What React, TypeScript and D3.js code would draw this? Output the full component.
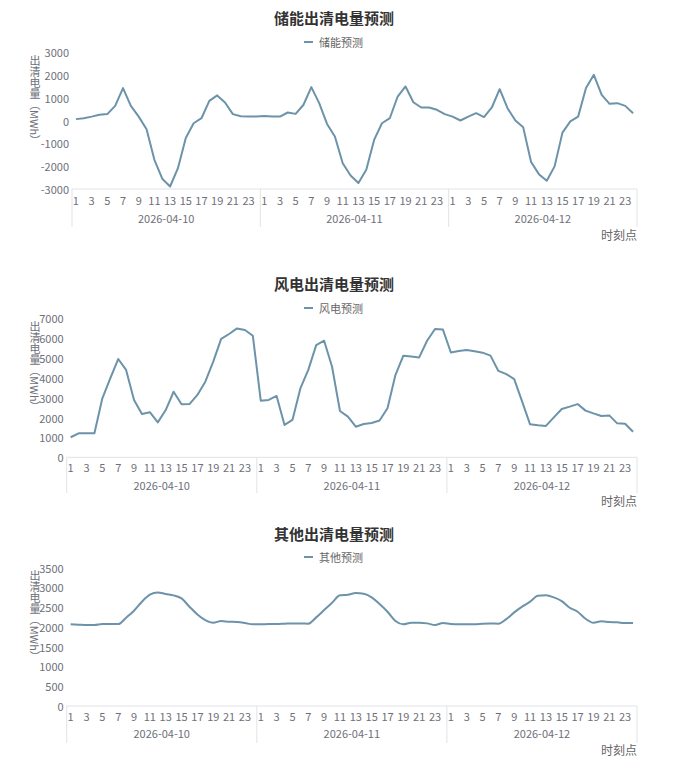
import * as d3 from "d3";
import React from "react";

// categories
const dates: string[] = ["2026-04-10", "2026-04-11", "2026-04-12"];
const hours: number[] = [1, 2, 3, 4, 5, 6, 7, 8, 9, 10, 11, 12, 13, 14, 15, 16, 17, 18, 19, 20, 21, 22, 23, 24];

// series values, one entry per hour of the three days
const storageValues: number[] = [
	60, 100, 170, 250, 280, 640, 1420, 640, 170, -380, -1720, -2550, -2890, -2090, -770, -120, 100, 860, 1100, 790, 280, 190, 170, 170,
	200, 170, 170, 350, 290, 690, 1460, 760, -150, -700, -1870, -2410, -2740, -2160, -850, -120, 100, 1050, 1490, 800, 570, 570, 470, 280,
	170, 0, 170, 320, 150, 570, 1370, 540, 0, -300, -1820, -2350, -2640, -2010, -530, -40, 170, 1420, 2000, 1120, 730, 760, 640, 320,
];
const windValues: number[] = [
	1010, 1210, 1210, 1210, 2970, 3980, 4950, 4400, 2890, 2180, 2270, 1760, 2380, 3300, 2670, 2680, 3140, 3810, 4820, 5960, 6210, 6490, 6410, 6120,
	2850, 2890, 3090, 1630, 1880, 3470, 4400, 5650, 5870, 4560, 2330, 2050, 1540, 1680, 1730, 1850, 2470, 4140, 5120, 5080, 5030, 5870, 6460, 6430,
	5280, 5350, 5400, 5340, 5270, 5120, 4350, 4190, 3940, 2800, 1660, 1610, 1580, 2010, 2430, 2550, 2680, 2350, 2210, 2080, 2110, 1710, 1690, 1290,
];
const otherValues: number[] = [
	2066, 2057, 2049, 2049, 2074, 2074, 2074, 2234, 2411, 2640, 2816, 2875, 2833, 2800, 2723, 2513, 2318, 2175, 2108, 2150, 2133, 2125, 2100, 2066,
	2066, 2074, 2074, 2083, 2091, 2091, 2083, 2243, 2428, 2614, 2800, 2816, 2858, 2841, 2749, 2580, 2386, 2150, 2066, 2108, 2108, 2091, 2049, 2100,
	2074, 2066, 2066, 2066, 2083, 2091, 2083, 2200, 2369, 2513, 2640, 2791, 2800, 2749, 2656, 2487, 2386, 2209, 2108, 2142, 2125, 2117, 2100, 2100,
];

const categories = dates.flatMap((d) => hours.map((h) => ({ date: d, hour: h })));

const yLabel = "出清电量（MWh）";

const font = "'Noto Sans CJK SC', 'Noto Sans', sans-serif";
const lineColor = "#6c93a9";
const labelColor = "#6e7079";
const axisColor = "#e0e3e8";

type ChartProps = {
	title: string;
	seriesName: string;
	values: number[];
	yMin: number;
	yMax: number;
	yStep: number;
	smooth?: boolean;
	titleY: number;
	legendY: number;
	left: number;
	right: number;
	top: number;
	bottom: number;
	hourY: number;
	dateY: number;
	sepBottom: number;
	unitY: number;
};

const Chart = (props: ChartProps) => {
	const xScale = d3
		.scaleBand<number>()
		.domain(d3.range(categories.length))
		.range([props.left, props.right])
		.padding(0);
	const bw = xScale.bandwidth();
	const cx = (i: number) => (xScale(i) as number) + bw / 2;

	const dayScale = d3
		.scaleBand<string>()
		.domain(dates)
		.range([props.left, props.right]);

	const yScale = d3
		.scaleLinear()
		.domain([props.yMin, props.yMax])
		.range([props.bottom, props.top]);
	const yTicks = d3.range(props.yMin, props.yMax + 1, props.yStep);

	const line = d3
		.line<number>()
		.x((_, i) => cx(i))
		.y((d) => yScale(d))
		.curve(props.smooth ? d3.curveMonotoneX : d3.curveLinear);

	const titleX = 334;

	return (
		<g>
			<text
				x={titleX}
				y={props.titleY}
				textAnchor="middle"
				dominantBaseline="central"
				fontSize={15}
				fontWeight="bold"
				fill="#333"
			>
				{props.title}
			</text>

			{/* legend */}
			<line
				x1={304}
				x2={313}
				y1={props.legendY}
				y2={props.legendY}
				stroke={lineColor}
				strokeWidth={2}
			/>
			<text
				x={319}
				y={props.legendY}
				dominantBaseline="central"
				fontSize={11}
				fill="#666"
			>
				{props.seriesName}
			</text>

			{/* y axis */}
			{yTicks.map((t) => (
				<text
					key={t}
					x={props.left - 3}
					y={yScale(t)}
					textAnchor="end"
					dominantBaseline="central"
					fontSize={11}
					fill={labelColor}
				>
					{t}
				</text>
			))}
			<text
				x={35}
				y={props.top + 3}
				fontSize={11}
				fill={labelColor}
				style={{ writingMode: "vertical-rl" }}
			>
				{yLabel}
			</text>

			{/* x axis */}
			<line
				x1={props.left}
				x2={props.right}
				y1={props.bottom}
				y2={props.bottom}
				stroke={axisColor}
			/>
			{[...dates.map((d) => dayScale(d) as number), props.right].map((x, i) => (
				<line
					key={i}
					x1={x}
					x2={x}
					y1={props.bottom}
					y2={props.sepBottom}
					stroke={axisColor}
				/>
			))}
			{categories.map((c, i) =>
				c.hour % 2 === 1 ? (
					<text
						key={i}
						x={cx(i)}
						y={props.hourY}
						textAnchor="middle"
						dominantBaseline="central"
						fontSize={11}
						fill={labelColor}
					>
						{c.hour}
					</text>
				) : null
			)}
			{dates.map((d) => (
				<text
					key={d}
					x={(dayScale(d) as number) + dayScale.bandwidth() / 2}
					y={props.dateY}
					textAnchor="middle"
					dominantBaseline="central"
					fontSize={11}
					fill={labelColor}
				>
					{d}
				</text>
			))}
			<text
				x={props.right}
				y={props.unitY}
				textAnchor="end"
				dominantBaseline="central"
				fontSize={12}
				fill="#666"
			>
				时刻点
			</text>

			<path
				d={line(props.values) || ""}
				fill="none"
				stroke={lineColor}
				strokeWidth={2}
				strokeLinejoin="round"
			/>
		</g>
	);
};

const App = () => {
	return (
		<svg
			width={675}
			height={775}
			style={{ position: "absolute", left: 0, top: 0, fontFamily: font, background: "#fff" }}
		>
			<Chart
				title="储能出清电量预测"
				seriesName="储能预测"
				values={storageValues}
				yMin={-3000}
				yMax={3000}
				yStep={1000}
				titleY={17}
				legendY={42}
				left={72}
				right={637}
				top={52}
				bottom={189}
				hourY={200}
				dateY={218}
				sepBottom={227}
				unitY={234}
			/>
			<Chart
				title="风电出清电量预测"
				seriesName="风电预测"
				values={windValues}
				yMin={0}
				yMax={7000}
				yStep={1000}
				titleY={283}
				legendY={308}
				left={66.7}
				right={637}
				top={318.3}
				bottom={457.3}
				hourY={467}
				dateY={485}
				sepBottom={493}
				unitY={500}
			/>
			<Chart
				title="其他出清电量预测"
				seriesName="其他预测"
				values={otherValues}
				yMin={0}
				yMax={3500}
				yStep={500}
				smooth
				titleY={533}
				legendY={557}
				left={66.7}
				right={637}
				top={567.7}
				bottom={706}
				hourY={716}
				dateY={733}
				sepBottom={743}
				unitY={749}
			/>
		</svg>
	);
};

export default App;
